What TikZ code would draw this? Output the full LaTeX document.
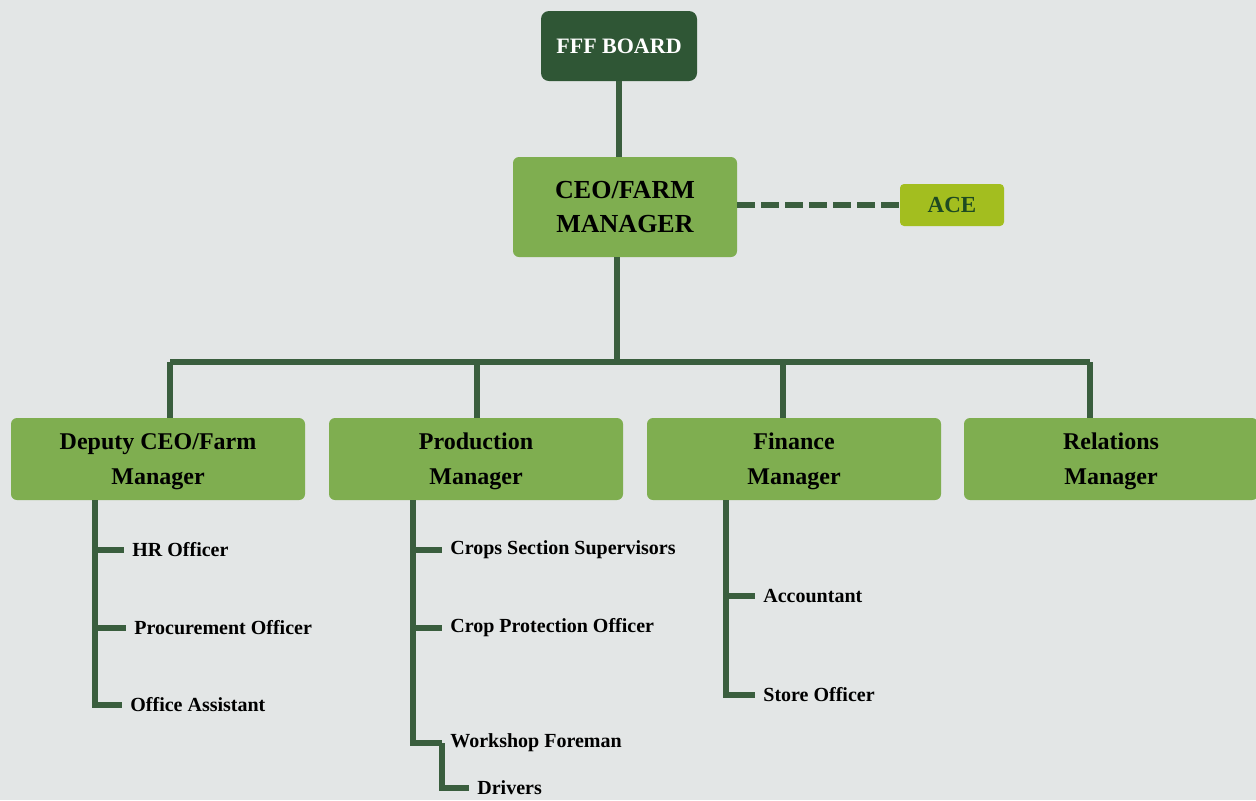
\documentclass[tikz,border=0pt]{standalone}
\usepackage{fontspec}
\setmainfont{Liberation Serif}
\usetikzlibrary{calc}

\definecolor{fond}{HTML}{E3E6E6}
\definecolor{vertfonce}{HTML}{2F5635}
\definecolor{vertclair}{HTML}{7FAE50}
\definecolor{vertace}{HTML}{A3BE1F}
\definecolor{trait}{HTML}{3A5E3E}
\definecolor{texteace}{HTML}{1E4A22}

\begin{document}
\begin{tikzpicture}[x=0.5pt,y=-0.5pt,
  boite/.style={rounded corners=3pt,fill=vertclair,align=center,inner sep=0pt,text depth=0pt,
    minimum width=147pt,minimum height=41pt,font=\bfseries\fontsize{12}{17.5}\selectfont},
  poste/.style={anchor=west,inner xsep=4pt,inner ysep=1pt,font=\bfseries\fontsize{10}{12}\selectfont},
  lien/.style={draw=trait,line width=3pt}]

  \fill[fond] (0,0) rectangle (1256,800) ;
  \useasboundingbox (0,0) rectangle (1256,800) ;

  \node[fill=vertfonce,rounded corners=4pt,minimum width=78pt,minimum height=35pt,
    text=white,font=\bfseries\fontsize{11}{13}\selectfont] (board) at (619,46) {FFF BOARD} ;
  \node[boite,minimum width=112pt,minimum height=50pt,
    font=\bfseries\fontsize{13}{17}\selectfont] (ceo) at (625,207) {CEO/FARM\\MANAGER} ;
  \node[fill=vertace,rounded corners=2pt,minimum width=52pt,minimum height=21pt,
    text=texteace,font=\bfseries\fontsize{11.5}{13}\selectfont] (ace) at (952,205) {ACE} ;

  \node[boite] (dep) at (158,459) {Deputy CEO/Farm\\Manager} ;
  \node[boite] (prod) at (476,459) {Production\\Manager} ;
  \node[boite] (fin) at (794,459) {Finance\\Manager} ;
  \node[boite] (rel) at (1111,459) {Relations\\Manager} ;

  \draw[lien] (board) -- (board |- ceo.north) ;
  \draw[lien,dash pattern=on 9pt off 3pt] (ceo.east |- ace.west) -- (ace.west) ;

  % bus vers les managers
  \coordinate (bus) at (617,362) ;
  \coordinate (t1) at (170,362) ; \coordinate (t2) at (477,362) ;
  \coordinate (t3) at (783,362) ; \coordinate (t4) at (1090,362) ;
  \draw[lien] (bus |- ceo.south) -- (bus) ;
  \draw[lien] (t1) -- (t4) ;
  \draw[lien] (t1) -- (t1 |- dep.north) ; \draw[lien] (t2) -- (t2 |- prod.north) ;
  \draw[lien] (t3) -- (t3 |- fin.north) ; \draw[lien] (t4) -- (t4 |- rel.north) ;

  \node[poste] (hr) at (124,550) {HR Officer} ;
  \node[poste] (proc) at (126,628) {Procurement Officer} ;
  \node[poste] (off) at (122,705) {Office Assistant} ;
  \coordinate (sdep) at (95,500) ;
  \draw[lien] (sdep) |- (hr.west) ; \draw[lien] (sdep) |- (proc.west) ;
  \draw[lien] (sdep) |- (off.west) ;

  \node[poste] (crops) at (442,550) {Crops Section Supervisors} ;
  \node[poste] (prot) at (442,628) {Crop Protection Officer} ;
  \node[poste] (work) at (442,743) {Workshop Foreman} ;
  \node[poste] (drv) at (469,788) {Drivers} ;
  \coordinate (sprod) at (413,500) ;
  \draw[lien] (sprod) |- (crops.west) ; \draw[lien] (sprod) |- (prot.west) ;
  \draw[lien] (sprod) |- (work.west) ;
  \draw[lien] (work.west) |- (drv.west) ;

  \node[poste] (acc) at (755,596) {Accountant} ;
  \node[poste] (store) at (755,695) {Store Officer} ;
  \coordinate (sfin) at (726,500) ;
  \draw[lien] (sfin) |- (acc.west) ; \draw[lien] (sfin) |- (store.west) ;

\end{tikzpicture}
\end{document}
